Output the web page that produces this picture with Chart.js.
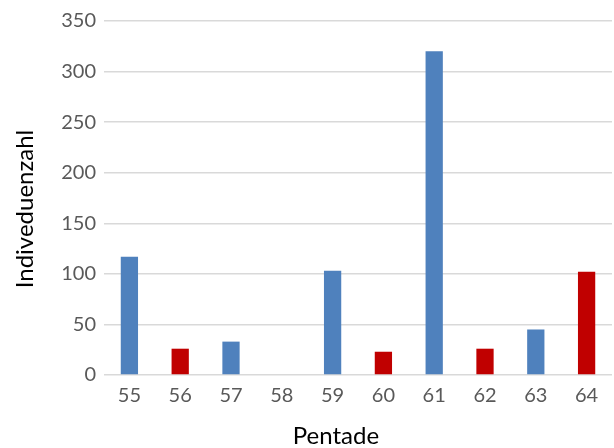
<!DOCTYPE html>
<html>
<head>
<meta charset="utf-8">
<script src="https://cdn.jsdelivr.net/npm/chart.js@4.4.1/dist/chart.umd.min.js"></script>
<style>
  html, body { margin: 0; padding: 0; background: #fff; }
  #wrap { width: 614px; height: 448px; }
</style>
</head>
<body>
<div id="wrap"><canvas id="chart" width="614" height="448"></canvas></div>
<script>
// Pentaden and counts
const pentaden = ['55', '56', '57', '58', '59', '60', '61', '62', '63', '64'];
const individuen = [117, 26, 33, 0, 103, 23, 320, 26, 45, 102];
const yTicks = [0, 50, 100, 150, 200, 250, 300, 350];
const xTitle = 'Pentade';
const yTitle = 'Indiveduenzahl';

const BLUE = '#4f81bd';
const RED = '#c00000';
// odd pentads blue, even pentads red
const barColors = pentaden.map(p => (parseInt(p) % 2 === 1 ? BLUE : RED));

const font = 'Lato, "Open Sans", sans-serif';

// axis titles drawn by hand so they can sit where the layout wants them
const axisTitles = {
  id: 'axisTitles',
  afterDraw(chart) {
    const ctx = chart.ctx;
    ctx.save();
    ctx.fillStyle = '#000';
    ctx.font = '24px ' + font;
    ctx.textAlign = 'center';
    ctx.textBaseline = 'alphabetic';
    ctx.fillText(xTitle, 336, 444);
    ctx.translate(33, 209);
    ctx.rotate(-Math.PI / 2);
    ctx.fillText(yTitle, 0, 0);
    ctx.restore();
  }
};

new Chart(document.getElementById('chart').getContext('2d'), {
  type: 'bar',
  data: {
    labels: pentaden,
    datasets: [{
      label: 'Individuenzahl',
      data: individuen,
      backgroundColor: barColors,
      borderWidth: 0,
      categoryPercentage: 1,
      barPercentage: 0.34
    }]
  },
  options: {
    responsive: false,
    animation: false,
    layout: { padding: { top: 21, right: 2, left: 0, bottom: 0 } },
    plugins: {
      legend: { display: false },
      tooltip: { enabled: false }
    },
    scales: {
      x: {
        grid: { display: false },
        border: { display: false },
        ticks: { color: '#595959', font: { family: font, size: 20 }, padding: 1 },
        afterFit: s => { s.height = 73; }
      },
      y: {
        min: 0,
        max: 350,
        afterBuildTicks: s => { s.ticks = yTicks.map(v => ({ value: v })); },
        grid: { color: '#d9d9d9', lineWidth: 1.5, drawTicks: false },
        border: { display: false },
        ticks: { color: '#595959', font: { family: font, size: 20 }, padding: 8 },
        afterFit: s => { s.width = 104; }
      }
    }
  },
  plugins: [axisTitles]
});
</script>
</body>
</html>
